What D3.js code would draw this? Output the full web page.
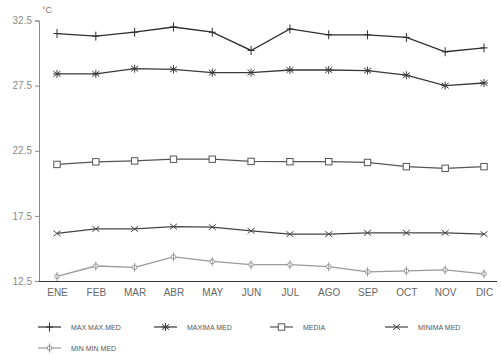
<!DOCTYPE html>
<html>
<head>
<meta charset="utf-8">
<script src="https://cdn.jsdelivr.net/npm/d3@7"></script>
<style>
  html, body { margin: 0; padding: 0; background: #fff; }
  svg { display: block; font-family: "Liberation Sans", "DejaVu Sans", sans-serif; }
</style>
</head>
<body>
<svg id="chart" width="501" height="355"></svg>
<script>
// Monthly temperature series (°C)
const months = ["ENE","FEB","MAR","ABR","MAY","JUN","JUL","AGO","SEP","OCT","NOV","DIC"];
const maxMaxMed = [31.5, 31.3, 31.6, 32.0, 31.6, 30.2, 31.85, 31.4, 31.4, 31.2, 30.1, 30.4];
const maximaMed = [28.4, 28.4, 28.8, 28.75, 28.5, 28.5, 28.7, 28.7, 28.65, 28.3, 27.5, 27.7];
const media     = [21.45, 21.65, 21.72, 21.85, 21.85, 21.68, 21.66, 21.66, 21.6, 21.28, 21.15, 21.28];
const minimaMed = [16.15, 16.5, 16.5, 16.68, 16.63, 16.35, 16.1, 16.1, 16.2, 16.2, 16.2, 16.1];
const minMinMed = [12.85, 13.65, 13.55, 14.35, 14.0, 13.75, 13.75, 13.6, 13.2, 13.27, 13.35, 13.05];
const yTicks = [12.5, 17.5, 22.5, 27.5, 32.5];
const seriesNames = ["MAX MAX.MED", "MAXIMA MED", "MEDIA", "MINIMA MED", "MIN MIN MED"];

const series = [
  { name: seriesNames[0], values: maxMaxMed, color: "#2e2e2e", marker: "plus" },
  { name: seriesNames[1], values: maximaMed, color: "#3a3a3a", marker: "star" },
  { name: seriesNames[2], values: media,     color: "#555555", marker: "square" },
  { name: seriesNames[3], values: minimaMed, color: "#444444", marker: "cross" },
  { name: seriesNames[4], values: minMinMed, color: "#9a9a9a", marker: "circle" }
];

const svg = d3.select("#chart");
const x = d3.scalePoint().domain(months).range([57, 484]);
const y = d3.scaleLinear().domain([12.5, 32.5]).range([281, 20.5]);

// Y axis
const yAxis = svg.append("g").attr("transform", "translate(39,0)")
  .call(d3.axisLeft(y).tickValues(yTicks).tickFormat(d3.format(".1f")).tickSize(4).tickPadding(3));
yAxis.select(".domain").attr("stroke", "#888").attr("stroke-width", 1);
yAxis.selectAll(".tick line").attr("stroke", "#888");
yAxis.selectAll(".tick text").attr("fill", "#8a8a8a").attr("font-size", 10);

// X axis
const xAxis = svg.append("g").attr("transform", "translate(0,281)")
  .call(d3.axisBottom(x).tickSize(0).tickPadding(8));
xAxis.select(".domain").attr("d", "M39,0.5H497").attr("stroke", "#333").attr("stroke-width", 1.2);
xAxis.selectAll(".tick text").attr("fill", "#666").attr("font-size", 10);

// Unit label
svg.append("text").attr("x", 42).attr("y", 13).attr("fill", "#777")
  .attr("font-size", 9).text("°C");

function drawMarker(g, type, cx, cy, color) {
  const s = g.append("g").attr("transform", `translate(${cx},${cy})`)
    .attr("stroke", color).attr("fill", "none").attr("stroke-width", 1);
  if (type === "plus") {
    s.append("path").attr("d", "M0,-4.5V4.5M-3.5,0H3.5");
  } else if (type === "star") {
    s.append("path").attr("d", "M0,-4V4M-3.5,-2.8L3.5,2.8M-3.5,2.8L3.5,-2.8M-4,0H4");
  } else if (type === "square") {
    s.append("rect").attr("x", -3.2).attr("y", -3.2).attr("width", 6.4).attr("height", 6.4).attr("fill", "#fff");
  } else if (type === "cross") {
    s.append("path").attr("d", "M-3.5,-2.8L3.5,2.8M-3.5,2.8L3.5,-2.8");
  } else if (type === "circle") {
    s.append("circle").attr("r", 2.3).attr("fill", "#fff");
    s.append("path").attr("d", "M0,-4.5V4.5");
  }
}

const line = d3.line().x((d, i) => x(months[i])).y(d => y(d));

series.forEach(sr => {
  const g = svg.append("g");
  g.append("path").datum(sr.values).attr("d", line)
    .attr("fill", "none").attr("stroke", sr.color).attr("stroke-width", 1.3);
  sr.values.forEach((v, i) => drawMarker(g, sr.marker, x(months[i]), y(v), sr.color));
});

// Legend
const legendPos = [
  { x: 38, y: 327 }, { x: 154, y: 327 }, { x: 270, y: 327 }, { x: 385, y: 327 }, { x: 38, y: 348 }
];
series.forEach((sr, i) => {
  const p = legendPos[i];
  const g = svg.append("g");
  g.append("path").attr("d", `M${p.x},${p.y}H${p.x + 23}`).attr("stroke", sr.color).attr("stroke-width", 1.2);
  drawMarker(g, sr.marker, p.x + 11.5, p.y, sr.color);
  g.append("text").attr("x", p.x + 33).attr("y", p.y + 3)
    .attr("font-size", 7).attr("fill", "#555").text(sr.name);
});
</script>
</body>
</html>
